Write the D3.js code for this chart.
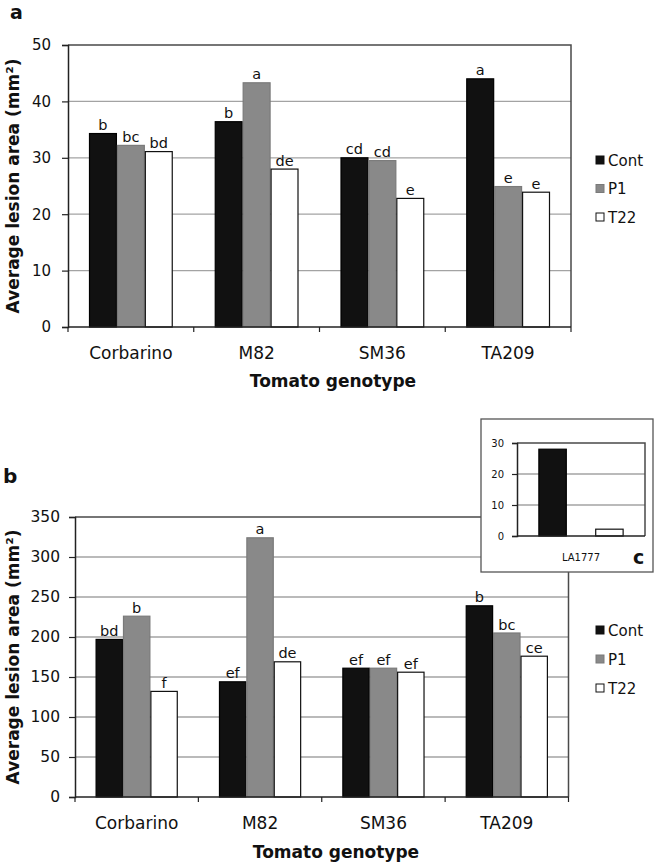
<!DOCTYPE html>
<html>
<head>
<meta charset="utf-8">
<script src="https://cdn.jsdelivr.net/npm/d3@7"></script>
<style>
  html, body { margin: 0; padding: 0; background: #fff; }
  svg { display: block; font-family: "DejaVu Sans", Verdana, sans-serif; }
</style>
</head>
<body>
<svg id="chart" width="656" height="864"></svg>
<script>
// ---------- data ----------
const categories = ["Corbarino", "M82", "SM36", "TA209"];
const series = ["Cont", "P1", "T22"];

// panel a
const aCont = [34.3, 36.4, 30.0, 44.0];
const aP1   = [32.2, 43.3, 29.5, 24.9];
const aT22  = [31.1, 28.0, 22.8, 23.9];
const aLetCont = ["b", "b", "cd", "a"];
const aLetP1   = ["bc", "a", "cd", "e"];
const aLetT22  = ["bd", "de", "e", "e"];
const aTicks = [0, 10, 20, 30, 40, 50];

// panel b
const bCont = [197, 144, 161, 239];
const bP1   = [226, 324, 161, 205];
const bT22  = [132, 169, 156, 176];
const bLetCont = ["bd", "ef", "ef", "b"];
const bLetP1   = ["b", "a", "ef", "bc"];
const bLetT22  = ["f", "de", "ef", "ce"];
const bTicks = [0, 50, 100, 150, 200, 250, 300, 350];

// inset c
const cCategories = ["LA1777"];
const cCont = [28];
const cP1   = [null];
const cT22  = [2.2];
const cTicks = [0, 10, 20, 30];

const yTitle = "Average lesion area (mm\u00B2)";
const xTitle = "Tomato genotype";

const fills = { Cont: "#111111", P1: "#898989", T22: "#ffffff" };
const strokes = { Cont: "#000000", P1: "#7a7a7a", T22: "#111111" };

const svg = d3.select("#chart");

function drawPanel(opt) {
  const g = svg.append("g");
  const x0 = d3.scaleBand().domain(opt.cats).range([opt.left, opt.right]).padding(0);
  const bw = x0.bandwidth();
  const x1 = d3.scaleBand().domain(series).range([bw * 0.167, bw * 0.833]).padding(0);
  const y = d3.scaleLinear().domain([0, opt.max]).range([opt.bottom, opt.top]);

  if (opt.box) {
    g.append("rect").attr("x", opt.box[0]).attr("y", opt.box[1])
      .attr("width", opt.box[2]).attr("height", opt.box[3])
      .attr("fill", "#fff").attr("stroke", "#555").attr("stroke-width", 1.3);
  }

  // gridlines
  g.append("g").selectAll("line").data(opt.ticks.filter(t => t > 0 && t < opt.max)).join("line")
    .attr("x1", opt.left).attr("x2", opt.right)
    .attr("y1", d => y(d)).attr("y2", d => y(d))
    .attr("stroke", "#a3a3a3").attr("stroke-width", 1.3);

  // plot border top & right
  g.append("path")
    .attr("d", `M${opt.left},${y(opt.max)}H${opt.right}V${y(0)}`)
    .attr("fill", "none").attr("stroke", "#4a4a4a").attr("stroke-width", 1.5);

  // bars
  const vals = opt.vals;
  const groups = g.append("g").selectAll("g").data(opt.cats).join("g")
    .attr("transform", d => `translate(${x0(d)},0)`);
  groups.selectAll("rect")
    .data((d, i) => series.map(s => ({ s, v: vals[s][i] })).filter(o => o.v != null))
    .join("rect")
    .attr("x", d => x1(d.s) + 0.5).attr("width", x1.bandwidth() - 1)
    .attr("y", d => y(d.v)).attr("height", d => y(0) - y(d.v))
    .attr("fill", d => fills[d.s]).attr("stroke", d => strokes[d.s]).attr("stroke-width", 1.2);

  if (opt.letters) {
    groups.selectAll("text")
      .data((d, i) => series.map(s => ({ s, v: vals[s][i], lab: opt.letters[s][i] })))
      .join("text")
      .attr("x", d => x1(d.s) + x1.bandwidth() / 2)
      .attr("y", d => y(d.v) - 3.5)
      .attr("text-anchor", "middle")
      .attr("font-size", opt.letterSize)
      .attr("fill", "#111")
      .text(d => d.lab);
  }

  // y axis
  const yAxis = d3.axisLeft(y).tickValues(opt.ticks).tickSize(opt.tickLen).tickPadding(opt.tickPad).tickFormat(d3.format("d"));
  const ya = g.append("g").attr("transform", `translate(${opt.left},0)`).call(yAxis);
  ya.select(".domain").attr("stroke", "#222").attr("stroke-width", 1.5);
  ya.selectAll(".tick line").attr("stroke", "#222").attr("stroke-width", 1.2);
  ya.selectAll(".tick text").attr("font-size", opt.tickSize).attr("fill", "#111")
    .attr("font-family", "DejaVu Sans, Verdana, sans-serif");

  // x axis baseline
  g.append("line").attr("x1", opt.left).attr("x2", opt.right)
    .attr("y1", y(0)).attr("y2", y(0)).attr("stroke", "#222").attr("stroke-width", 1.5);
  const bounds = opt.cats.map(c => x0(c)).concat([x0(opt.cats[opt.cats.length - 1]) + bw]);
  if (opt.xTickLen > 0) {
    g.append("g").selectAll("line").data(bounds).join("line")
      .attr("x1", d => d).attr("x2", d => d)
      .attr("y1", y(0)).attr("y2", y(0) + opt.xTickLen)
      .attr("stroke", "#222").attr("stroke-width", 1.2);
  }
  g.append("g").selectAll("text").data(opt.cats).join("text")
    .attr("x", d => x0(d) + bw / 2)
    .attr("y", y(0) + opt.catOffset)
    .attr("text-anchor", "middle")
    .attr("font-size", opt.catSize)
    .attr("fill", "#111")
    .text(d => d);

  return { x0, y };
}

// ---- panel a ----
drawPanel({
  cats: categories, left: 68, right: 571, top: 45, bottom: 327, max: 50,
  ticks: aTicks, vals: { Cont: aCont, P1: aP1, T22: aT22 },
  letters: { Cont: aLetCont, P1: aLetP1, T22: aLetT22 },
  letterSize: 14.5, tickSize: 15, tickLen: 6, tickPad: 11,
  xTickLen: 5, catOffset: 32, catSize: 17
});

// ---- panel b ----
drawPanel({
  cats: categories, left: 75, right: 568.5, top: 517, bottom: 797, max: 350,
  ticks: bTicks, vals: { Cont: bCont, P1: bP1, T22: bT22 },
  letters: { Cont: bLetCont, P1: bLetP1, T22: bLetT22 },
  letterSize: 14.5, tickSize: 15.5, tickLen: 6, tickPad: 9,
  xTickLen: 5, catOffset: 32, catSize: 17
});

// ---- inset c ----
drawPanel({
  cats: cCategories, left: 517, right: 645, top: 443, bottom: 536, max: 30,
  ticks: cTicks, vals: { Cont: cCont, P1: cP1, T22: cT22 },
  letters: null,
  tickSize: 10, tickLen: 5, tickPad: 8,
  xTickLen: 0, catOffset: 25, catSize: 10,
  box: [481, 419, 172, 153]
});
svg.append("text").attr("x", 633).attr("y", 564).attr("font-size", 19)
  .attr("font-weight", "bold").attr("fill", "#111").text("c");

// ---- titles ----
function yTitleAt(cx, cy) {
  svg.append("text")
    .attr("transform", `translate(${cx},${cy}) rotate(-90)`)
    .attr("text-anchor", "middle")
    .attr("font-size", 17).attr("font-weight", "bold").attr("fill", "#111")
    .text(yTitle);
}
yTitleAt(19, 186);
yTitleAt(19, 657);

svg.append("text").attr("x", 333).attr("y", 387).attr("text-anchor", "middle")
  .attr("font-size", 17).attr("font-weight", "bold").attr("fill", "#111").text(xTitle);
svg.append("text").attr("x", 336).attr("y", 858).attr("text-anchor", "middle")
  .attr("font-size", 17).attr("font-weight", "bold").attr("fill", "#111").text(xTitle);

// panel letters
svg.append("text").attr("x", 10).attr("y", 19).attr("font-size", 19)
  .attr("font-weight", "bold").attr("fill", "#111").text("a");
svg.append("text").attr("x", 3).attr("y", 483).attr("font-size", 20)
  .attr("font-weight", "bold").attr("fill", "#111").text("b");

// ---- legends ----
function legend(x, ys) {
  const lg = svg.append("g");
  const items = lg.selectAll("g").data(series).join("g")
    .attr("transform", (d, i) => `translate(${x},${ys[i]})`);
  items.append("rect").attr("x", 0).attr("y", -4).attr("width", 8).attr("height", 8)
    .attr("fill", d => fills[d]).attr("stroke", d => d === "P1" ? "#7a7a7a" : "#111").attr("stroke-width", 1);
  items.append("text").attr("x", 12).attr("y", 5.5).attr("font-size", 15).attr("fill", "#111").text(d => d);
}
legend(596, [160, 188.5, 217]);
legend(596, [630, 659, 688]);
</script>
</body>
</html>
